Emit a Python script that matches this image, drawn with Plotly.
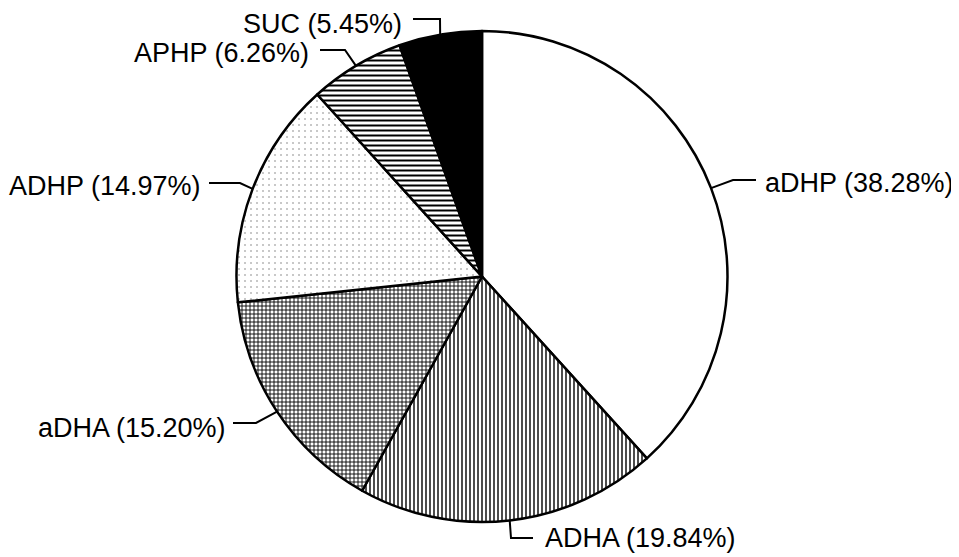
"""
Pie chart with hatch patterns and elbow leader lines.
"""

import math
import plotly.graph_objects as go

# page body has an 8px margin, so the figure is drawn a little smaller
OFF = 8
W, H = 959 - OFF, 557 - OFF

labels = ["aDHP", "ADHA", "aDHA", "ADHP", "APHP", "SUC"]
values = [38.28, 19.84, 15.20, 14.97, 6.26, 5.45]
shapes_pat = ["", "|", "+", ".", "-", ""]
fill_colors = ["white", "white", "white", "white", "white", "black"]

# pie placement in screen pixels
CX, CY, R = 482, 276.5, 245.5

# label placement (screen pixels): text anchor, side, elbow point, line end
label_layout = {
    "aDHP": dict(tx=763, ty=183, side="left", elbow=(733, 180), end=(756, 180)),
    "ADHA": dict(tx=543, ty=538, side="left", elbow=(511, 538), end=(533, 538)),
    "aDHA": dict(tx=228, ty=428, side="right", elbow=(256, 423), end=(233, 423)),
    "ADHP": dict(tx=203, ty=186, side="right", elbow=(240, 183), end=(209, 183)),
    "APHP": dict(tx=311, ty=53, side="right", elbow=(345, 50), end=(320, 50)),
    "SUC": dict(tx=404, ty=24, side="right", elbow=(440, 19), end=(413, 19)),
}


def px(x):
    return (x - OFF) / W


def py(y):
    return 1 - (y - OFF) / H


fig = go.Figure(go.Pie(
    labels=labels,
    values=values,
    sort=False,
    direction="clockwise",
    rotation=0,
    textinfo="none",
    hoverinfo="label+percent",
    marker=dict(
        colors=fill_colors,
        line=dict(color="black", width=2.5),
        pattern=dict(
            shape=shapes_pat,
            fgcolor=["black", "black", "black", "#777", "black", "black"],
            bgcolor="white",
            size=[6, 4, 4, 6, 5, 6],
            solidity=[0.3, 0.35, 0.4, 0.05, 0.4, 0.3],
        ),
    ),
    domain=dict(x=[px(CX - R), px(CX + R)], y=[py(CY + R), py(CY - R)]),
    showlegend=False,
))

# leader lines + labels, anchored at each slice's mid angle
total = sum(values)
cum = 0.0
annotations = []
shapes = []
for lab, val in zip(labels, values):
    mid = (cum + val / 2) / total * 2 * math.pi
    cum += val
    ex = CX + R * math.sin(mid)
    ey = CY - R * math.cos(mid)
    L = label_layout[lab]
    (bx, by), (qx, qy) = L["elbow"], L["end"]
    path = f"M {px(ex)} {py(ey)} L {px(bx)} {py(by)} L {px(qx)} {py(qy)}"
    shapes.append(dict(type="path", xref="paper", yref="paper", path=path,
                       line=dict(color="black", width=2)))
    annotations.append(dict(
        x=px(L["tx"]), y=py(L["ty"]), xref="paper", yref="paper",
        xanchor=L["side"], yanchor="middle", showarrow=False,
        text=f"{lab} ({val:.2f}%)",
        font=dict(size=27, color="black", family="Arial, Liberation Sans, sans-serif"),
    ))

fig.update_layout(
    width=W,
    height=H,
    paper_bgcolor="white",
    plot_bgcolor="white",
    margin=dict(t=0, b=0, l=0, r=0),
    annotations=annotations,
    shapes=shapes,
)

fig.write_html("out.html")
